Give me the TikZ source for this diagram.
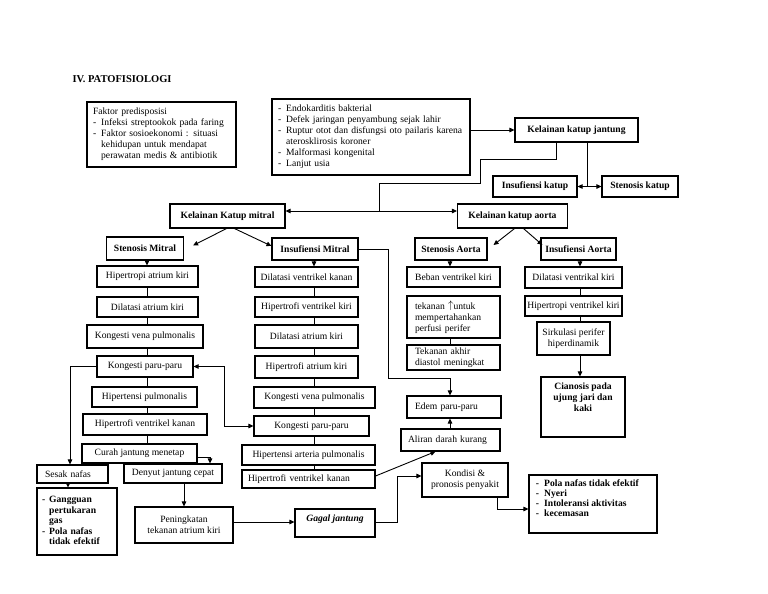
\documentclass[tikz,border=0pt]{standalone}
\usepackage{fontspec}
\setmainfont{Liberation Serif}
\usetikzlibrary{arrows.meta}
\newcommand\nf{\fontsize{9.6}{11}\selectfont}
\newcommand\outctext{\begin{tabular}{@{}l@{\hspace{5pt}}l@{}}-&Pola nafas tidak efektif\\-&Nyeri\\-&Intoleransi aktivitas\\-&kecemasan\end{tabular}}
\newcommand\ciantext{Cianosis pada\\ujung jari dan\\kaki}
\tikzset{
 bx/.style={draw, line width=1.1pt, inner sep=1pt, align=center, font=\nf},
 bb/.style={bx, font=\nf\bfseries},
 lbx/.style={bx, align=left, inner xsep=#1},
 conn/.style={line width=0.9pt},
 arr/.style={conn, -{Triangle[length=5pt,width=4.5pt]}},
 darr/.style={conn, {Triangle[length=5pt,width=4.5pt]}-{Triangle[length=5pt,width=4.5pt]}}
}
\begin{document}
\begin{tikzpicture}[x=1pt,y=-1pt]
\fill[white] (0,0) rectangle (768,594);
\useasboundingbox (0,0) rectangle (768,594);

\node[anchor=base west, font=\fontsize{10.5}{12}\selectfont\bfseries] (title) at (69,82) {IV. PATOFISIOLOGI};

% top boxes
\node[lbx=6, text width=137, minimum height=65] (fak) at (161.5,134.5)
 {\noindent\begin{tabular}{@{}l@{\hspace{5pt}}l@{}}\multicolumn{2}{@{}l@{}}{Faktor predisposisi}\\-&Infeksi streptookok pada faring\\-&Faktor sosioekonomi : situasi\\&kehidupan untuk mendapat\\&perawatan medis \& antibiotik\end{tabular}};
\node[lbx=6, text width=186, minimum height=76] (etio) at (371,137)
 {\noindent\begin{tabular}{@{}l@{\hspace{5pt}}l@{}}-&Endokarditis bakterial\\-&Defek jaringan penyambung sejak lahir\\-&Ruptur otot dan disfungsi oto pailaris karena\\&aterosklirosis koroner\\-&Malformasi kongenital\\-&Lanjut usia\end{tabular}};
\node[bb, minimum width=123, minimum height=24] (kkj) at (576.5,130) {Kelainan katup jantung};
\node[bb, minimum width=84, minimum height=21] (insk) at (535,186.5) {Insufiensi katup};
\node[bb, minimum width=76, minimum height=21] (stenk) at (640,186.5) {Stenosis katup};
\node[bb, minimum width=115, minimum height=24] (kkm) at (227.5,216) {Kelainan Katup mitral};
\node[bb, minimum width=110, minimum height=24] (kka) at (512.5,216) {Kelainan katup aorta};

\node[bb, minimum width=77, minimum height=23] (smit) at (145,248.5) {Stenosis Mitral};
\node[bb, minimum width=86, minimum height=22] (imit) at (315,249) {Insufiensi Mitral};
\node[bb, minimum width=72, minimum height=22] (saor) at (451,249) {Stenosis Aorta};
\node[bb, minimum width=75, minimum height=22] (iaor) at (578.5,249) {Insufiensi Aorta};

% left column
\node[bx, minimum width=101, minimum height=21] (l1) at (147.5,276.5) {Hipertropi atrium kiri};
\node[bx, minimum width=101, minimum height=20] (l2) at (147.5,307) {Dilatasi atrium kiri};
\node[bx, minimum width=116, minimum height=23] (l3) at (145,336.5) {Kongesti vena pulmonalis};
\node[bx, minimum width=96, minimum height=21] (l4) at (145,366.5) {Kongesti paru-paru};
\node[bx, minimum width=105, minimum height=20] (l5) at (144.5,397) {Hipertensi pulmonalis};
\node[bx, minimum width=124, minimum height=21] (l6) at (145,424.5) {Hipertrofi ventrikel kanan};
\node[bx, minimum width=115, minimum height=19] (l7) at (139.5,453.5) {Curah jantung menetap};
\node[lbx=8, text width=55, minimum height=18] (sesak) at (72.5,474) {Sesak nafas};
\node[lbx=5, text width=70, minimum height=67, font=\fontsize{9.6}{10.5}\selectfont\bfseries] (gang) at (77,521.5)
 {\noindent\begin{tabular}{@{}l@{\hspace{4pt}}l@{}}-&Gangguan\\&pertukaran\\&gas\\-&Pola nafas\\&tidak efektif\end{tabular}};
\node[bx, minimum width=98, minimum height=19] (denyut) at (173,473.5) {Denyut jantung cepat};
\node[bx, minimum width=98, minimum height=36] (ping) at (184,525) {Peningkatan\\tekanan atrium kiri};

% middle column
\node[bx, minimum width=103, minimum height=20] (m1) at (306.5,277) {Dilatasi ventrikel kanan};
\node[bx, minimum width=103, minimum height=20] (m2) at (306.5,307) {Hipertrofi ventrikel kiri};
\node[bx, minimum width=103, minimum height=23] (m3) at (306.5,336.5) {Dilatasi atrium kiri};
\node[bx, minimum width=103, minimum height=22] (m4) at (306.5,367) {Hipertrofi atrium kiri};
\node[bx, minimum width=121, minimum height=21] (m5) at (314.5,397.5) {Kongesti vena pulmonalis};
\node[bx, minimum width=115, minimum height=20] (m6) at (311.5,426) {Kongesti paru-paru};
\node[bx, minimum width=133, minimum height=20] (m7) at (308.5,455) {Hipertensi arteria pulmonalis};
\node[lbx=6, text width=121, minimum height=18] (m8) at (308.5,479) {Hipertrofi ventrikel kanan};
\node[bx, minimum width=80, minimum height=28,
 label={[font=\nf\bfseries\itshape, anchor=north, yshift=-3pt]north:Gagal jantung}] (gagal) at (335,523) {};

% aorta stenosis column
\node[bx, minimum width=93, minimum height=20] (a1) at (453.5,277) {Beban ventrikel kiri};
\node[lbx=8, text width=77, minimum height=42] (a2) at (453.5,317) {tekanan \raisebox{1pt}{\fontsize{11}{11}\selectfont$\uparrow$}untuk\\mempertahankan\\perfusi perifer};
\node[lbx=8, text width=77, minimum height=25] (a3) at (453.5,357.5) {Tekanan akhir\\diastol meningkat};
\node[lbx=8, text width=78, minimum height=22] (edem) at (454,407) {Edem paru-paru};
\node[lbx=7, text width=85, minimum height=22] (aliran) at (450.5,440) {Aliran darah kurang};
\node[bx, minimum width=86, minimum height=34] (kond) at (465,480) {Kondisi \&\\pronosis penyakit};

% aorta insufficiency column
\node[bx, minimum width=97, minimum height=21] (r1) at (573.5,277.5) {Dilatasi ventrikal kiri};
\node[bx, minimum width=97, minimum height=20] (r2) at (573.5,306) {Hipertropi ventrikel kiri};
\node[bx, minimum width=73, minimum height=33] (r3) at (573.5,338.5) {Sirkulasi perifer\\hiperdinamik};
\node[bx, minimum width=84, minimum height=60,
 label={[font=\nf\bfseries, align=center, anchor=north, yshift=-3pt]north:{\ciantext}}] (cian) at (583,407) {};
\node[bx, minimum width=128, minimum height=58,
 label={[font=\fontsize{9.6}{10}\selectfont\bfseries, align=left, anchor=north west, xshift=4pt, yshift=-2pt]north west:{\outctext}}] (outc) at (593,504) {};

% connectors top
\draw[arr] (etio.east |- kkj.west) -- (kkj.west);
\coordinate (b1) at (556,159);
\coordinate (b2) at (480,183);
\coordinate (j1) at (379,211);
\draw[conn] (kkj.south -| b1) -- (b1) -| (b2) -| (j1);
\draw[arr] (j1) -- (j1 -| kkm.east);
\draw[arr] (j1) -- (j1 -| kka.west);
\coordinate (j2) at (587,186.5);
\draw[conn] (kkj.south -| j2) -- (j2);
\draw[arr] (j2) -- (insk.east);
\draw[arr] (j2) -- (stenk.west);

\draw[arr] ([xshift=-1pt]kkm.south) -- ([xshift=9pt,yshift=3pt]smit.east);
\draw[arr] ([xshift=7pt]kkm.south) -- ([yshift=3pt]imit.west);
\draw[arr] ([xshift=2pt]kka.south) -- ([xshift=6pt,yshift=4pt]saor.east);
\draw[arr] ([xshift=11pt]kka.south) -- ([xshift=2pt,yshift=4pt]iaor.west);

% columns
\coordinate (lx) at (147,0);
\coordinate (mx) at (314,0);
\coordinate (ax) at (450,0);
\coordinate (rx) at (580,0);
\draw[arr] (smit.south -| lx) -- (l1.north -| lx);
\foreach \a/\b in {l1/l2,l2/l3,l3/l4,l4/l5,l5/l6,l6/l7}
  \draw[conn] (\a.south -| lx) -- (\b.north -| lx);
\draw[arr] (imit.south -| mx) -- (m1.north -| mx);
\foreach \a/\b in {m1/m2,m2/m3,m3/m4,m4/m5,m5/m6,m6/m7,m7/m8}
  \draw[conn] (\a.south -| mx) -- (\b.north -| mx);
\draw[arr] (saor.south -| ax) -- (a1.north -| ax);
\draw[conn] (a2.south -| ax) -- (a3.north -| ax);
\draw[arr] (iaor.south -| rx) -- (r1.north -| rx);
\draw[conn] (r1.south -| rx) -- (r2.north -| rx);
\draw[conn] (r2.south -| rx) -- (r3.north -| rx);
\draw[arr] (r3.south -| rx) -- (cian.north -| rx);

% cross links
\coordinate (c1) at (388,378);
\draw[arr] (imit.east) -| (c1) -| (edem.north -| ax);
\draw[arr] (aliran.north -| ax) -- (edem.south -| ax);
\draw[arr] ([yshift=3pt]m8.east) -- ([xshift=-15pt]aliran.south);
\draw[darr] (l4.east) -- ++(31,0) |- (m6.west);
\draw[arr] (l4.west) -| ([xshift=-2.5pt]sesak.north);
\draw[arr] ([xshift=-4.5pt]sesak.south) -- ([xshift=-4.5pt]sesak.south |- gang.north);
\draw[arr] ([yshift=-4pt]l7.east) -| ([xshift=37pt]denyut.north);
\draw[arr] (denyut.south -| ping.north) -- (ping.north);
\draw[arr] ([yshift=3pt]ping.east) -- ([yshift=3pt]ping.east -| gagal.west);
\draw[arr] ([yshift=1pt]gagal.east) -- ++(22,0) |- ([yshift=4pt]kond.west);
\draw[arr] ([xshift=32pt]kond.south) |- ([yshift=-5pt]outc.west);
\end{tikzpicture}
\end{document}
